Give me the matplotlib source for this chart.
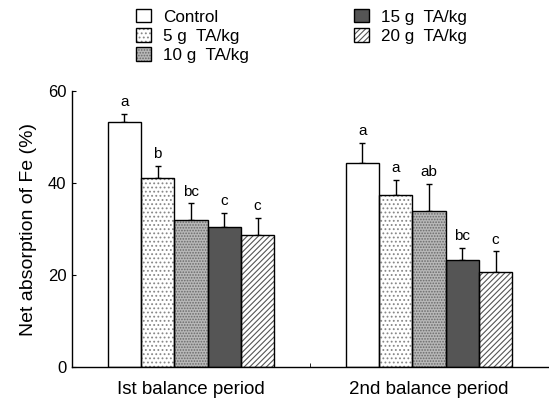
import numpy as np
import matplotlib
matplotlib.use("Agg")
import matplotlib.pyplot as plt
import matplotlib.patches as pat
from matplotlib.legend_handler import HandlerTuple

plt.rcParams['font.family'] = ['Liberation Sans', 'DejaVu Sans']
plt.rcParams['hatch.linewidth'] = 0.8

periods = ["Ist balance period", "2nd balance period"]
groups = ["Control", "5 g  TA/kg", "10 g  TA/kg", "15 g  TA/kg", "20 g  TA/kg"]

# mean net absorption (%) per group, one list per period
means_1st = [53.3, 41.2, 32.0, 30.4, 28.7]
means_2nd = [44.4, 37.4, 33.9, 23.3, 20.6]
# upper error (SE)
err_1st = [1.8, 2.6, 3.6, 3.1, 3.8]
err_2nd = [4.4, 3.3, 5.9, 2.7, 4.6]
letters_1st = ["a", "b", "bc", "c", "c"]
letters_2nd = ["a", "a", "ab", "bc", "c"]

means = np.array([means_1st, means_2nd])
errs = np.array([err_1st, err_2nd])
letters = [letters_1st, letters_2nd]

faces = ["white", "white", "#b8b8b8", "#555555", "white"]
hatches = [None, "....", "......", None, "//////"]
hatch_cols = ["black", "#888888", "#6a6a6a", "black", "#555555"]

fig = plt.figure(figsize=(5.49, 4.03), dpi=100)
ax = fig.add_axes([0.131, 0.089, 0.867, 0.685])

x = np.arange(len(periods))
w = 0.14
handles = []
for j in range(len(groups)):
    xs = x + (j - 2) * w
    ax.bar(xs, means[:, j], w, color=faces[j], hatch=hatches[j],
           edgecolor=hatch_cols[j], linewidth=0, zorder=2)
    ax.bar(xs, means[:, j], w, color="none", edgecolor="black",
           linewidth=1.0, zorder=3)
    ax.errorbar(xs, means[:, j], yerr=[np.zeros(2), errs[:, j]], fmt="none",
                ecolor="black", elinewidth=1.0, capsize=2.5, capthick=1.0, zorder=1)
    for k in range(len(periods)):
        ax.text(xs[k], means[k, j] + errs[k, j] + 1.0, letters[k][j],
                ha="center", va="bottom", fontsize=11)
    fill = pat.Patch(facecolor=faces[j], hatch=hatches[j],
                     edgecolor=hatch_cols[j], linewidth=0)
    edge = pat.Patch(facecolor="none", edgecolor="black", linewidth=1.0)
    handles.append((fill, edge))

ax.set_xlim(-0.5, 1.5)
ax.set_ylim(0, 60)
ax.set_yticks([0, 20, 40, 60])
ax.set_xticks(x)
ax.set_xticklabels(periods, fontsize=13.5)
ax.set_xticks([0.5], minor=True)
ax.tick_params(axis="x", which="major", length=0, pad=10)
ax.tick_params(axis="x", which="minor", direction="in", length=3)
ax.tick_params(axis="y", direction="in", length=3, labelsize=12, pad=4)
ax.set_ylabel("Net absorption of Fe (%)", fontsize=14, labelpad=8)
for s in ["top", "right"]:
    ax.spines[s].set_visible(False)
for s in ["left", "bottom"]:
    ax.spines[s].set_linewidth(1.0)

# legend drawn as two stacked columns
opts = dict(loc="upper left", frameon=False, fontsize=12.3,
            handlelength=0.85, handleheight=0.85, handletextpad=0.75,
            labelspacing=0.2, borderaxespad=0, borderpad=0,
            handler_map={tuple: HandlerTuple(ndivide=1)})
fig.legend(handles[:3], groups[:3], bbox_to_anchor=(0.248, 0.978), **opts)
fig.legend(handles[3:], groups[3:], bbox_to_anchor=(0.645, 0.978), **opts)

fig.savefig("out.png", dpi=100)
